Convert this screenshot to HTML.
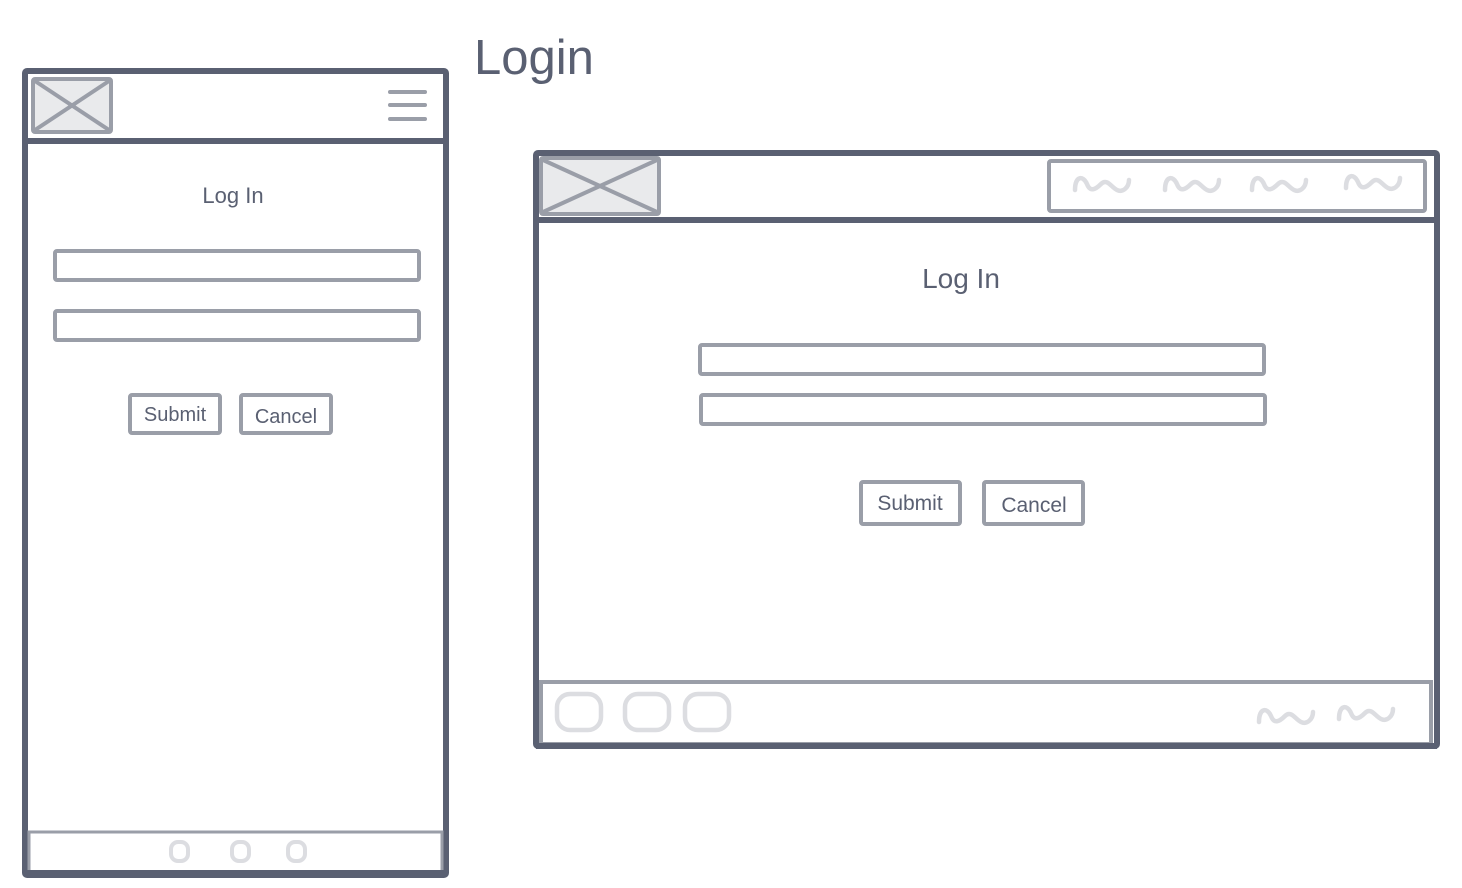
<!DOCTYPE html>
<html><head><meta charset="utf-8"><style>
html,body{margin:0;padding:0;background:#fff;}
svg{display:block;}
text{font-family:"Liberation Sans",Arial,sans-serif;fill:#5a6072;}
</style></head><body>
<svg width="1462" height="888" viewBox="0 0 1462 888" xmlns="http://www.w3.org/2000/svg">
<defs>
<path id="sq" d="M0,12 C0,-2 8,-3 12,6 C15,14 20,12 26,6 C32,0 36,9 42,12 C48,15 54,9 54,2" fill="none" stroke="#dcdde1" stroke-width="4.5" stroke-linecap="round"/>
</defs>
<text x="474" y="74" font-size="49">Login</text>

<!-- Mobile -->
<rect x="25" y="71" width="421" height="804" rx="2" fill="#fff" stroke="#5a6072" stroke-width="6"/>
<line x1="25" y1="141" x2="446" y2="141" stroke="#5a6072" stroke-width="6"/>
<rect x="33" y="79" width="78" height="53" rx="2" fill="#e9eaec" stroke="#9a9ea8" stroke-width="4"/>
<line x1="35" y1="81" x2="109" y2="130" stroke="#9a9ea8" stroke-width="4"/>
<line x1="109" y1="81" x2="35" y2="130" stroke="#9a9ea8" stroke-width="4"/>
<g stroke="#9a9ea8" stroke-width="4" stroke-linecap="round">
<line x1="390" y1="92" x2="425" y2="92"/><line x1="390" y1="105" x2="425" y2="105"/><line x1="390" y1="119" x2="425" y2="119"/>
</g>
<text x="233" y="203" font-size="22" text-anchor="middle">Log In</text>
<rect x="55" y="251" width="364" height="29" rx="2" fill="none" stroke="#9a9ea8" stroke-width="4"/>
<rect x="55" y="311" width="364" height="29" rx="2" fill="none" stroke="#9a9ea8" stroke-width="4"/>
<rect x="130" y="395" width="90" height="38" rx="2" fill="none" stroke="#9a9ea8" stroke-width="4"/>
<rect x="241" y="395" width="90" height="38" rx="2" fill="none" stroke="#9a9ea8" stroke-width="4"/>
<text x="175" y="421" font-size="20" text-anchor="middle">Submit</text>
<text x="286" y="423" font-size="20" text-anchor="middle">Cancel</text>
<rect x="29" y="832" width="413" height="40" fill="#fff" stroke="#9a9ea8" stroke-width="3"/>
<line x1="25" y1="873" x2="446" y2="873" stroke="#5a6072" stroke-width="6"/>
<g fill="none" stroke="#dcdde1" stroke-width="4">
<rect x="171" y="842" width="17" height="19" rx="7"/>
<rect x="232" y="842" width="17" height="19" rx="7"/>
<rect x="288" y="842" width="17" height="19" rx="7"/>
</g>

<!-- Desktop -->
<rect x="536" y="153" width="901" height="593" rx="2" fill="#fff" stroke="#5a6072" stroke-width="6"/>
<line x1="536" y1="220" x2="1437" y2="220" stroke="#5a6072" stroke-width="6"/>
<rect x="541" y="158" width="118" height="56" rx="2" fill="#e9eaec" stroke="#9a9ea8" stroke-width="4"/>
<line x1="543" y1="160" x2="657" y2="212" stroke="#9a9ea8" stroke-width="4"/>
<line x1="657" y1="160" x2="543" y2="212" stroke="#9a9ea8" stroke-width="4"/>
<rect x="1049" y="161" width="376" height="50" rx="2" fill="none" stroke="#9a9ea8" stroke-width="4"/>
<use href="#sq" x="1075" y="178"/>
<use href="#sq" x="1165" y="178"/>
<use href="#sq" x="1252" y="178"/>
<use href="#sq" x="1346" y="176"/>
<text x="961" y="288" font-size="28" text-anchor="middle">Log In</text>
<rect x="700" y="345" width="564" height="29" rx="2" fill="none" stroke="#9a9ea8" stroke-width="4"/>
<rect x="701" y="395" width="564" height="29" rx="2" fill="none" stroke="#9a9ea8" stroke-width="4"/>
<rect x="861" y="482" width="99" height="42" rx="2" fill="none" stroke="#9a9ea8" stroke-width="4"/>
<rect x="984" y="482" width="99" height="42" rx="2" fill="none" stroke="#9a9ea8" stroke-width="4"/>
<text x="910" y="510" font-size="21" text-anchor="middle">Submit</text>
<text x="1034" y="512" font-size="21" text-anchor="middle">Cancel</text>
<rect x="541" y="682" width="890" height="62" fill="#fff" stroke="#9a9ea8" stroke-width="4"/>
<line x1="536" y1="746" x2="1437" y2="746" stroke="#5a6072" stroke-width="6"/>
<g fill="none" stroke="#dcdde1" stroke-width="4.5">
<rect x="557" y="694" width="44" height="36" rx="13"/>
<rect x="625" y="694" width="44" height="36" rx="13"/>
<rect x="685" y="694" width="44" height="36" rx="13"/>
</g>
<use href="#sq" x="1259" y="710"/>
<use href="#sq" x="1339" y="707"/>
</svg>
</body></html>
